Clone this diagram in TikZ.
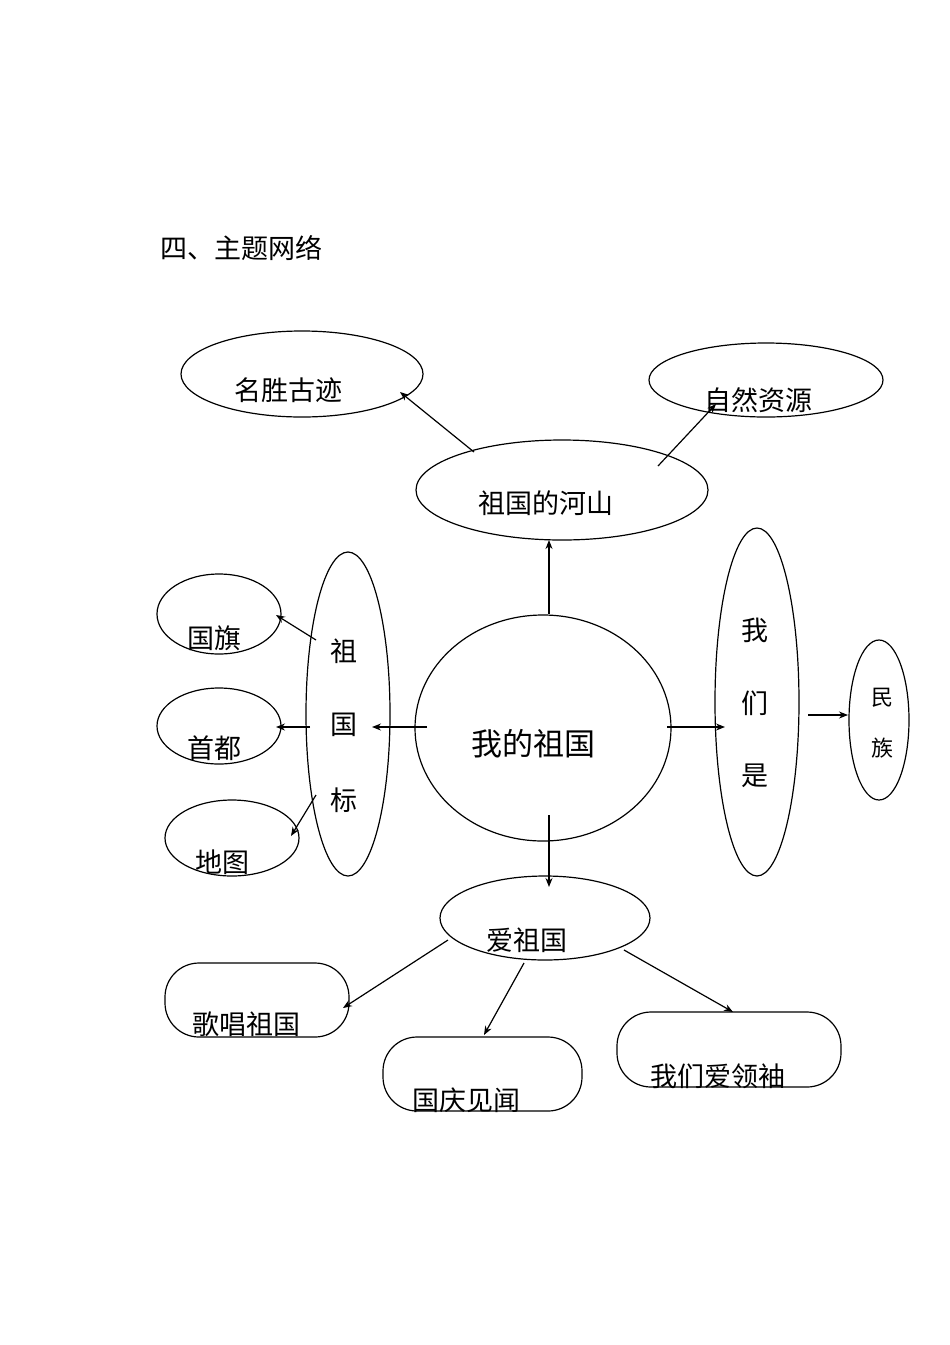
\documentclass[tikz,border=0pt]{standalone}
\usepackage{fontspec}
\setmainfont{Noto Sans CJK SC}
\usetikzlibrary{arrows.meta}
\begin{document}
\begin{tikzpicture}[x=1pt,y=-1pt,
  shp/.style={draw,line width=1.2pt},
  arr/.style={line width=1.2pt,-{Stealth[length=9pt,width=7pt]}},
  txt/.style={font=\fontsize{27}{30}\selectfont,inner sep=0pt},
  stxt/.style={font=\fontsize{22}{26}\selectfont,inner sep=0pt}]
\useasboundingbox (0,0) rectangle (950,1345);
\node[txt,anchor=west] (title) at (160,248) {四、主题网络};
% shapes
\draw[shp] (302,374) ellipse [x radius=121,y radius=43];
\draw[shp] (766,380) ellipse [x radius=117,y radius=37];
\draw[shp] (562,490) ellipse [x radius=146,y radius=50];
\draw[shp] (543,728) ellipse [x radius=128,y radius=113];
\draw[shp] (348,714) ellipse [x radius=42,y radius=162];
\draw[shp] (219,614) ellipse [x radius=62,y radius=40];
\draw[shp] (219,726) ellipse [x radius=62,y radius=38];
\draw[shp] (232,838) ellipse [x radius=67,y radius=38];
\draw[shp] (757,702) ellipse [x radius=42,y radius=174];
\draw[shp] (879,720) ellipse [x radius=30,y radius=80];
\draw[shp] (545,918) ellipse [x radius=105,y radius=42];
\draw[shp,rounded corners=34pt] (165,963) rectangle (349,1037);
\draw[shp,rounded corners=34pt] (383,1037) rectangle (582,1111);
\draw[shp,rounded corners=34pt] (617,1012) rectangle (841,1087);
% texts
\node[txt] (t1) at (288,390) {名胜古迹};
\node[txt] (t2) at (758,400) {自然资源};
\node[txt] (t3) at (546,503) {祖国的河山};
\node[font=\fontsize{31}{34}\selectfont,inner sep=0pt] (t4) at (533,744) {我的祖国};
\node[txt] (b1) at (344,651) {祖};
\node[txt] (b2) at (344,725) {国};
\node[txt] (b3) at (344,800) {标};
\node[txt] (t5) at (214,638) {国旗};
\node[txt] (t6) at (214,748) {首都};
\node[txt] (t7) at (222,862) {地图};
\node[txt] (w1) at (755,630) {我};
\node[txt] (w2) at (755,703) {们};
\node[txt] (w3) at (755,776) {是};
\node[stxt] (m1) at (882,698) {民};
\node[stxt] (m2) at (882,748) {族};
\node[txt] (t8) at (527,940) {爱祖国};
\node[txt] (t9) at (246,1024) {歌唱祖国};
\node[txt] (t10) at (466,1100) {国庆见闻};
\node[txt] (t11) at (718,1076) {我们爱领袖};
% connector ends
\coordinate (a1) at (474,452); \coordinate (a2) at (400,392);
\coordinate (b1s) at (658,466); \coordinate (b2e) at (716,404);
\coordinate (c1) at (549,614); \coordinate (c2) at (549,540);
\coordinate (d1) at (427,727); \coordinate (d2) at (372,727);
\coordinate (e1) at (316,640); \coordinate (e2) at (276,615);
\coordinate (f1) at (310,727); \coordinate (f2) at (276,727);
\coordinate (g1) at (316,795); \coordinate (g2) at (291,836);
\coordinate (h1) at (667,727); \coordinate (h2) at (725,727);
\coordinate (i1) at (808,715); \coordinate (i2) at (848,715);
\coordinate (j1) at (549,815); \coordinate (j2) at (549,887);
\coordinate (k1) at (448,940); \coordinate (k2) at (343,1008);
\coordinate (l1) at (524,963); \coordinate (l2) at (484,1035);
\coordinate (n1) at (624,950); \coordinate (n2) at (733,1012);
\draw[arr] (a1) -- (a2);
\draw[arr] (b1s) -- (b2e);
\draw[arr] (c1) -- (c2);
\draw[arr] (d1) -- (d2);
\draw[arr] (e1) -- (e2);
\draw[arr] (f1) -- (f2);
\draw[arr] (g1) -- (g2);
\draw[arr] (h1) -- (h2);
\draw[arr] (i1) -- (i2);
\draw[arr] (j1) -- (j2);
\draw[arr] (k1) -- (k2);
\draw[arr] (l1) -- (l2);
\draw[arr] (n1) -- (n2);
\end{tikzpicture}
\end{document}
